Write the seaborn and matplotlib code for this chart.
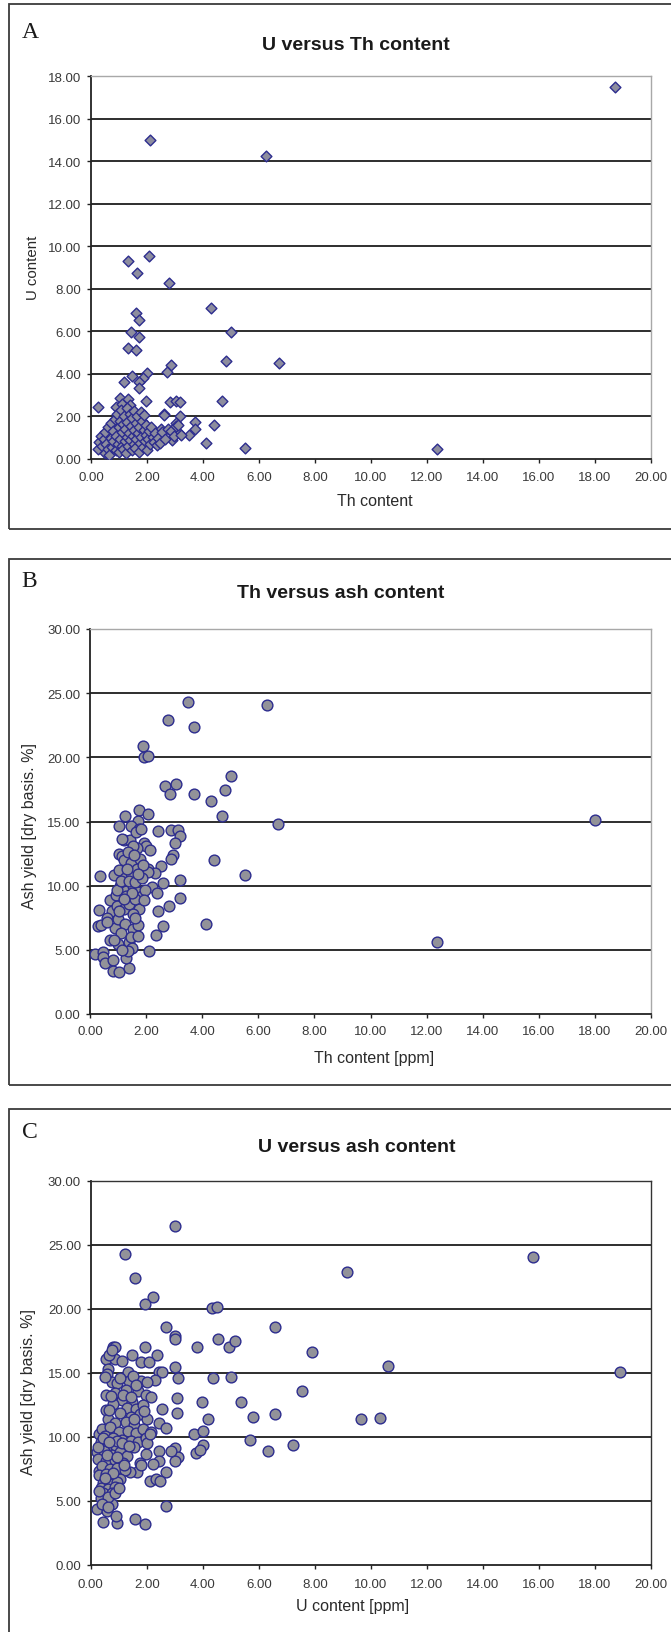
import matplotlib
matplotlib.use("Agg")
import matplotlib.pyplot as plt
import seaborn as sns
import pandas as pd
from matplotlib.patches import Rectangle

# ---------------------------------------------------------------- data
# Panel A: U content versus Th content
th_a = [18.70, 2.09, 6.26, 2.06, 1.31, 1.63, 2.78, 4.29, 1.62, 1.71,
        5.01, 1.42, 1.71, 1.31, 1.62, 4.81, 6.72, 2.86, 2.70, 2.00,
        1.45, 1.85, 1.71, 1.19, 1.71, 4.68, 1.97, 1.02, 1.33, 0.24,
        0.90, 2.83, 3.03, 3.19, 2.61, 3.19, 3.73, 3.03, 4.39, 2.51,
        3.70, 3.51, 3.16, 2.90, 4.09, 5.50, 12.35, 1.10, 1.40,
        0.25, 0.30, 0.35, 0.40, 0.45, 0.50, 0.50, 0.55, 0.60, 0.62,
        0.65, 0.70, 0.72, 0.75, 0.80, 0.80, 0.85, 0.88, 0.90, 0.92,
        0.95, 1.00, 1.00, 1.02, 1.05, 1.08, 1.10, 1.12, 1.15, 1.15,
        1.18, 1.20, 1.22, 1.25, 1.28, 1.30, 1.30, 1.32, 1.35, 1.38,
        1.40, 1.42, 1.45, 1.48, 1.50, 1.52, 1.55, 1.55, 1.58, 1.60,
        1.62, 1.65, 1.68, 1.70, 1.72, 1.75, 1.78, 1.80, 1.82, 1.85,
        1.88, 1.90, 1.92, 1.95, 1.98, 2.00, 2.05, 2.08, 2.12, 2.15,
        2.20, 2.25, 2.30, 2.35, 2.40, 2.45, 2.55, 2.60, 2.65, 2.75,
        2.85, 2.95, 3.05, 3.10, 3.20]
u_a = [17.48, 15.00, 14.22, 9.53, 9.30, 8.75, 8.25, 7.12, 6.85, 6.51,
       5.96, 5.96, 5.72, 5.22, 5.11, 4.61, 4.50, 4.44, 4.11, 4.05,
       3.92, 3.79, 3.61, 3.61, 3.32, 2.71, 2.74, 2.85, 2.82, 2.43,
       2.43, 2.67, 2.71, 2.67, 2.12, 2.04, 1.72, 1.68, 1.60, 1.41,
       1.41, 1.14, 1.21, 0.91, 0.75, 0.52, 0.47, 2.60, 2.55,
       0.45, 0.80, 1.10, 0.60, 0.95, 0.30, 1.25, 0.70, 1.50, 0.45,
       0.20, 1.00, 1.70, 0.55, 0.85, 1.30, 1.90, 0.40, 1.10, 2.10,
       0.70, 1.50, 0.35, 1.80, 0.95, 2.30, 0.60, 1.25, 1.65, 0.45,
       2.00, 0.85, 1.40, 0.30, 1.05, 2.40, 1.75, 0.60, 1.20, 2.10,
       0.90, 1.55, 0.40, 1.95, 1.10, 0.70, 1.35, 2.25, 0.50, 1.70,
       0.95, 2.00, 1.20, 0.35, 1.50, 0.75, 2.20, 1.05, 1.80, 0.55,
       1.35, 2.05, 0.85, 1.15, 1.60, 0.40, 0.95, 1.30, 0.70, 1.50,
       1.05, 0.80, 1.20, 0.65, 1.00, 0.75, 1.25, 2.05, 0.95, 1.40,
       1.30, 1.10, 1.55, 1.60, 1.15]

# Panel B: ash yield versus Th content
th_b = [3.49, 6.30, 2.77, 3.70, 1.88, 1.94, 2.06, 5.02, 2.68, 3.06,
        2.85, 3.70, 4.80, 4.30, 1.75, 2.06, 1.23, 4.71, 1.71, 6.72,
        18.00, 1.02, 1.45, 1.75, 2.44, 2.90, 3.14, 3.20, 3.02, 1.22,
        1.42, 1.92, 2.00, 2.13, 2.95, 2.89, 1.02, 1.14, 1.22, 4.42,
        2.52, 2.06, 2.32, 5.52, 0.35, 0.87, 3.20, 2.59, 2.20, 2.39,
        3.20, 0.73, 0.92, 0.32, 0.80, 2.82, 2.44, 4.13, 0.30, 0.38,
        0.60, 0.89, 2.59, 2.35, 12.36, 0.72, 1.00, 1.38, 2.09, 0.18,
        0.45, 0.48, 0.52, 0.82, 0.83, 1.03, 1.40, 1.30, 1.48, 1.35,
        1.63, 1.82, 1.66, 1.46, 1.78, 1.04, 1.25, 1.45, 1.68, 2.05,
        1.08, 1.28, 1.55, 1.70, 1.85, 0.95, 0.95, 1.22, 1.40, 1.75,
        1.55, 0.62, 1.00, 1.25, 1.52, 1.72, 1.10, 0.85, 1.45, 1.72,
        1.15, 1.30, 1.60, 1.95, 1.12, 1.38, 1.62, 1.85, 1.15, 1.55,
        1.35, 1.58, 1.88, 1.32, 1.72, 1.92, 1.50, 1.20, 1.05, 1.60]
ash_b = [24.31, 24.04, 22.94, 22.37, 20.90, 20.06, 20.14, 18.56, 17.73, 17.92,
         17.11, 17.11, 17.46, 16.63, 15.90, 15.61, 15.44, 15.44, 15.04, 14.77,
         15.15, 14.62, 14.62, 14.45, 14.24, 14.30, 14.30, 13.85, 13.30, 13.56,
         13.56, 13.35, 13.10, 12.81, 12.40, 12.06, 12.50, 12.30, 12.00, 12.00,
         11.55, 11.28, 11.00, 10.80, 10.72, 10.80, 10.45, 10.18, 9.90, 9.40,
         9.05, 8.90, 9.25, 8.11, 8.05, 8.38, 8.03, 6.98, 6.85, 6.95,
         7.45, 6.70, 6.82, 6.18, 5.59, 5.75, 5.47, 5.60, 4.89, 4.70,
         4.85, 4.45, 3.95, 4.20, 3.38, 3.30, 3.60, 4.35, 5.16, 4.90,
         14.20, 14.42, 12.90, 11.80, 12.10, 11.20, 10.60, 11.00, 11.30, 11.10,
         10.00, 9.60, 10.00, 9.50, 9.20, 9.70, 8.40, 8.20, 8.60, 8.20,
         7.80, 7.20, 7.40, 7.00, 6.60, 6.90, 6.30, 5.80, 6.00, 6.10,
         4.95, 9.20, 9.00, 9.70, 10.40, 10.40, 10.30, 10.60, 13.60, 13.10,
         12.60, 12.40, 11.60, 11.30, 10.90, 8.90, 9.40, 9.00, 8.00, 7.50]

# Panel C: ash yield versus U content
u_c = [3.01, 1.23, 15.80, 9.16, 1.57, 2.21, 1.93, 4.32, 4.50, 2.68,
       6.57, 3.01, 3.01, 3.79, 4.55, 4.93, 5.14, 7.89, 1.93, 2.35,
       1.46, 0.79, 0.88, 0.53, 0.88, 1.78, 2.09, 10.60, 18.90, 3.01,
       1.34, 2.44, 2.56, 3.10, 4.37, 5.00, 0.63, 0.58, 2.31, 7.54,
       3.07, 0.56, 3.96, 5.35, 5.78, 6.59, 9.66, 10.34, 2.54, 3.07,
       4.20, 0.56, 2.45, 2.68, 3.68, 4.00, 5.69, 7.21, 6.33, 4.00,
       3.77, 3.90, 3.01, 3.10, 3.01, 2.85, 2.45, 2.45, 2.68, 2.21,
       2.10, 2.32, 2.46, 2.68, 1.57, 1.93, 0.43, 0.94, 0.21, 0.58,
       0.90, 0.22, 0.30, 0.30, 1.98, 1.76, 1.64, 1.40, 0.75, 0.50,
       0.75, 0.95, 1.36, 1.80, 2.00, 1.05, 0.51, 1.52, 1.26, 1.70,
       0.87, 1.12, 1.46, 1.98, 2.15, 0.80, 1.30, 1.62, 1.88, 1.05,
       1.45, 1.75, 2.00, 0.62, 0.85, 1.25, 1.55, 0.40, 0.70, 1.02,
       1.32, 1.60, 1.85, 2.15, 0.52, 0.80, 1.10, 1.45, 1.70, 1.98,
       0.35, 0.60, 0.90, 1.20, 1.55, 2.00, 0.48, 0.75, 1.05, 1.30,
       0.27, 0.55, 0.85, 1.15, 1.80, 0.40, 0.70, 0.95, 1.22, 0.30,
       0.55, 0.80, 1.05, 0.45, 0.70, 0.95, 0.38, 0.62, 0.85, 0.45,
       0.75, 0.35, 0.60, 0.85, 0.40, 0.62, 0.30, 1.00, 0.27, 0.93,
       0.45, 0.65, 1.10, 1.35, 0.58, 0.95, 1.20, 0.80, 0.50, 0.65,
       0.72, 0.65, 0.76, 1.10, 1.62, 1.15, 1.45, 1.90, 1.55, 2.10]
ash_c = [26.51, 24.26, 24.09, 22.89, 22.43, 20.94, 20.37, 20.10, 20.17, 18.63,
         18.63, 17.86, 17.63, 17.03, 17.69, 17.03, 17.49, 16.66, 17.03, 16.37,
         16.37, 17.00, 17.00, 16.10, 16.10, 15.86, 15.85, 15.54, 15.09, 15.49,
         15.09, 15.07, 15.07, 14.63, 14.63, 14.71, 15.30, 14.90, 14.43, 13.63,
         13.03, 13.26, 12.77, 12.77, 11.57, 11.77, 11.37, 11.46, 12.20, 11.91,
         11.37, 12.11, 11.09, 10.70, 10.26, 10.46, 9.77, 9.40, 8.94, 9.40,
         8.77, 9.00, 9.14, 8.43, 8.14, 8.90, 8.90, 8.10, 7.29, 7.90,
         6.60, 6.70, 6.60, 4.60, 3.57, 3.20, 3.37, 3.29, 4.37, 4.18,
         3.85, 8.83, 10.26, 7.34, 8.65, 8.00, 7.30, 7.30, 4.75, 5.50,
         14.30, 14.20, 14.40, 14.40, 14.30, 14.60, 14.70, 14.80, 13.70, 13.60,
         13.40, 12.90, 12.70, 13.30, 13.10, 12.60, 12.30, 12.20, 12.50, 11.90,
         11.60, 11.80, 11.40, 11.40, 11.10, 11.20, 10.90, 10.60, 10.80, 10.40,
         10.50, 10.30, 10.60, 10.40, 10.10, 9.90, 9.80, 9.70, 9.60, 9.90,
         9.60, 9.40, 9.30, 9.10, 9.20, 9.50, 8.90, 8.60, 8.80, 8.50,
         8.30, 8.10, 8.20, 8.00, 7.80, 7.70, 7.50, 7.60, 7.40, 7.00,
         7.10, 6.90, 6.70, 6.40, 6.30, 6.50, 6.00, 5.90, 6.10, 5.60,
         5.60, 5.20, 5.30, 5.60, 4.80, 4.50, 5.80, 6.00, 9.20, 9.70,
         9.90, 9.60, 9.50, 9.30, 8.60, 8.40, 7.80, 7.20, 6.80, 12.10,
         13.20, 16.40, 16.80, 15.90, 14.10, 13.30, 13.10, 12.00, 11.40, 10.20]

x_ticks = [0, 2, 4, 6, 8, 10, 12, 14, 16, 18, 20]
y_ticks_a = [0, 2, 4, 6, 8, 10, 12, 14, 16, 18]
y_ticks_ash = [0, 5, 10, 15, 20, 25, 30]

# ---------------------------------------------------------------- style
sns.set_theme(style="white")
plt.rcParams["font.family"] = ["Liberation Sans", "DejaVu Sans"]

W, H = 671, 1633
fig = plt.figure(figsize=(W / 100, H / 100), dpi=100)
fig.patch.set_facecolor("white")

EDGE = "#2c2c8e"
GRID = "#1c1c1c"


def fx(px):
    return px / W


def fy(py):
    return 1 - py / H


def frame(top, bottom):
    rect = Rectangle((fx(8.5), fy(bottom)), fx(700), (bottom - top) / H,
                     transform=fig.transFigure, fill=False, lw=1.3,
                     ec="#3c3c3c", clip_on=False)
    fig.add_artist(rect)


def panel(letter, letter_xy, title, title_xy, box, ax_px, data, x, y,
          yticks, xlabel, xlabel_xy, ylabel, ylabel_xy, ylabel_size,
          marker, size, fill, frame_color, xpad):
    frame(*box)
    fig.text(fx(letter_xy[0]), fy(letter_xy[1]), letter,
             family=["Liberation Serif"], fontsize=17, ha="center",
             va="center", color="#1a1a1a")
    fig.text(fx(title_xy[0]), fy(title_xy[1]), title, fontsize=14,
             fontweight="bold", ha="center", va="center", color="#1a1a1a")

    x0, x1, y0, y1 = ax_px
    ax = fig.add_axes([fx(x0), fy(y1), (x1 - x0) / W, (y1 - y0) / H])
    ax.set_facecolor("white")
    sns.scatterplot(data=data, x=x, y=y, ax=ax, marker=marker, s=size,
                    color=fill, edgecolor=EDGE, linewidth=1.0, zorder=3,
                    legend=False)
    ax.set_xlim(x_ticks[0], x_ticks[-1])
    ax.set_ylim(yticks[0], yticks[-1])
    ax.set_xticks(x_ticks)
    ax.set_yticks(yticks)
    ax.set_xticklabels([f"{v:.2f}" for v in x_ticks])
    ax.set_yticklabels([f"{v:.2f}" for v in yticks])
    ax.set_xlabel("")
    ax.set_ylabel("")

    ax.set_axisbelow(True)
    ax.grid(axis="y", color=GRID, lw=1.3)
    ax.grid(axis="x", visible=False)
    gl = ax.get_ygridlines()
    gl[0].set_visible(False)
    gl[-1].set_visible(False)

    for side in ("left", "bottom"):
        ax.spines[side].set_color("#222222")
        ax.spines[side].set_linewidth(1.3)
    for side in ("top", "right"):
        ax.spines[side].set_color(frame_color)
        ax.spines[side].set_linewidth(1.0)

    ax.tick_params(axis="both", which="major", direction="out", length=3,
                   width=1.0, color="#222222", labelsize=9.5,
                   labelcolor="#3a3a3a")
    ax.tick_params(axis="x", pad=xpad, bottom=True)
    ax.tick_params(axis="y", pad=4, left=True)

    fig.text(fx(xlabel_xy[0]), fy(xlabel_xy[1]), xlabel, fontsize=11.5,
             ha="center", va="center", color="#2a2a2a")
    fig.text(fx(ylabel_xy[0]), fy(ylabel_xy[1]), ylabel, fontsize=ylabel_size,
             ha="center", va="center", rotation=90, color="#2a2a2a")
    return ax


df_a = pd.DataFrame({"th": th_a, "u": u_a})
df_b = pd.DataFrame({"th": th_b, "ash": ash_b})
df_c = pd.DataFrame({"u": u_c, "ash": ash_c})

panel("A", (30, 33), "U versus Th content", (356, 45), (5, 530),
      (91, 651, 77, 460), df_a, "th", "u", y_ticks_a,
      "Th content", (375, 502), "U content", (33, 268), 10.8,
      "D", 30, "#8d8d9e", "#a8a8a8", 5.8)

panel("B", (29, 582), "Th versus ash content", (341, 594), (560, 1086),
      (90, 651, 630, 1015), df_b, "th", "ash", y_ticks_ash,
      "Th content [ppm]", (374, 1058), "Ash yield [dry basis. %]",
      (30, 826), 11.5, "o", 60, "#929299", "#a8a8a8", 5.0)

panel("C", (30, 1133), "U versus ash content", (357, 1147), (1110, 1700),
      (90.7, 651, 1182, 1566), df_c, "u", "ash", y_ticks_ash,
      "U content [ppm]", (353, 1607), "Ash yield [dry basis. %]",
      (28, 1392), 11.5, "o", 60, "#929299", "#333333", 6.5)

fig.savefig("out.png", dpi=100, facecolor="white")
